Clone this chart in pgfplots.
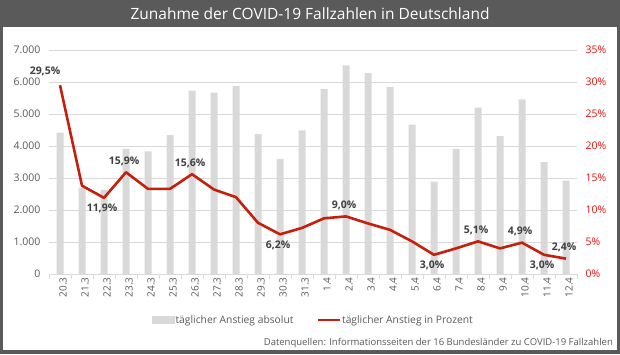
\documentclass[border=0pt]{standalone}
\usepackage{pgfplots}
\pgfplotsset{compat=1.18}
\usepackage{pgfplotstable}
\usepackage{fontspec}
\setmainfont{Open Sans}
\definecolor{framegray}{HTML}{5A5A5A}
\definecolor{bargray}{HTML}{D9D9D9}
\definecolor{gridgray}{HTML}{D9D9D9}
\definecolor{txtgray}{HTML}{595959}
\definecolor{lblgray}{HTML}{404040}
\definecolor{linered}{RGB}{196,32,12}
\definecolor{axred}{RGB}{228,16,16}

\pgfplotstableread{
x abs pct
0 4420 29.5
1 2700 13.8
2 2630 11.9
3 3910 15.9
4 3830 13.3
5 4340 13.3
6 5730 15.6
7 5670 13.2
8 5870 12.0
9 4370 8.0
10 3590 6.2
11 4490 7.2
12 5780 8.7
13 6520 9.0
14 6280 7.9
15 5850 6.9
16 4670 5.1
17 2890 3.0
18 3910 4.0
19 5200 5.1
20 4310 4.0
21 5460 4.9
22 3500 3.0
23 2920 2.4
}\data

\begin{document}
\begin{tikzpicture}
\fill[framegray] (0pt,0pt) rectangle (620pt,-354pt);
\fill[white] (3pt,-27pt) rectangle (617pt,-350pt);
\node[text=white,font=\fontsize{15.5}{18}\selectfont] at (310pt,-13.5pt) {Zunahme der COVID-19 Fallzahlen in Deutschland};
\node[anchor=base east,inner sep=0pt,text=txtgray,font=\fontsize{9.5}{11}\selectfont] at (613pt,-345pt) {Datenquellen: Informationsseiten der 16 Bundesländer zu COVID-19 Fallzahlen};

\begin{axis}[
  at={(49pt,-274pt)}, anchor=south west,
  width=528pt, height=224pt, scale only axis,
  xmin=-0.5, xmax=23.5, ymin=0, ymax=7000,
  ytick={0,1000,...,7000},
  xtick={0,...,23},
  xticklabels={20.3,21.3,22.3,23.3,24.3,25.3,26.3,27.3,28.3,29.3,30.3,31.3,1.4,2.4,3.4,4.4,5.4,6.4,7.4,8.4,9.4,10.4,11.4,12.4},
  minor xtick={-0.5,0.5,...,23.5},
  xtick pos=bottom, ytick pos=left,
  major tick length=0pt, minor tick length=5pt, tick align=outside,
  minor tick style={gridgray, line width=0.8pt},
  separate axis lines,
  x axis line style={draw=gridgray, line width=0.8pt},
  y axis line style={draw=none},
  ymajorgrids, grid style={gridgray, line width=0.8pt},
  /pgf/number format/assume math mode=true,
  /pgf/number format/1000 sep={.},
  x tick label style={rotate=90, anchor=east, font=\fontsize{10}{12}\selectfont, text=txtgray, yshift=-3pt},
  y tick label style={font=\fontsize{10.5}{12}\selectfont, text=txtgray, xshift=-5pt},
  ybar, bar width=7pt,
]
\addplot[fill=bargray, draw=none] table[x=x, y=abs] {\data};
\end{axis}

\begin{axis}[
  at={(49pt,-274pt)}, anchor=south west,
  width=528pt, height=224pt, scale only axis,
  xmin=-0.5, xmax=23.5, ymin=0, ymax=35,
  ytick={0,5,...,35},
  hide x axis,
  ytick pos=right,
  axis line style={draw=none},
  major tick length=0pt,
  /pgf/number format/assume math mode=true,
  yticklabel={\pgfmathprintnumber{\tick}\%},
  y tick label style={font=\fontsize{10.5}{12}\selectfont, text=axred, xshift=5pt},
  legend style={at={(0.5,-0.205)}, anchor=center, draw=none, fill=none,
    font=\fontsize{10.3}{12}\selectfont, text=txtgray,
    legend columns=2,
    /tikz/every even column/.append style={column sep=22pt},
    nodes={inner xsep=1pt}},
  legend cell align=left,
  every node near coord/.append style={font=\bfseries\fontsize{10.5}{12}\selectfont, text=lblgray},
]
\addlegendimage{legend image code/.code={\fill[bargray] (0pt,-3.5pt) rectangle (22pt,3.5pt);}}
\addlegendentry{täglicher Anstieg absolut}
\addplot[linered, line width=2.6pt, line join=round, mark=none,
  legend image code/.code={\draw[linered, line width=2.6pt] (0pt,0pt) -- (22pt,0pt);}]
  table[x=x, y=pct] {\data};
\addlegendentry{täglicher Anstieg in Prozent}

\addplot[forget plot, only marks, mark=none, point meta=y,
  nodes near coords={\pgfmathprintnumber[fixed,fixed zerofill,precision=1,use comma]{\pgfplotspointmeta}\%},
  every node near coord/.append style={anchor=south, yshift=3pt, xshift=-2pt}]
  coordinates {(3,15.9) (6,15.6) (13,9.0) (19,5.1) (21,4.9) (23,2.4)};
\addplot[forget plot, only marks, mark=none, point meta=y,
  nodes near coords={\pgfmathprintnumber[fixed,fixed zerofill,precision=1,use comma]{\pgfplotspointmeta}\%},
  every node near coord/.append style={anchor=north, yshift=-3pt, xshift=-2pt}]
  coordinates {(2,11.9) (10,6.2) (17,3.0) (22,3.0)};
\addplot[forget plot, only marks, mark=none, point meta=y,
  nodes near coords={\pgfmathprintnumber[fixed,fixed zerofill,precision=1,use comma]{\pgfplotspointmeta}\%},
  every node near coord/.append style={anchor=south, yshift=6pt, xshift=-15pt}]
  coordinates {(0,29.5)};
\end{axis}
\end{tikzpicture}
\end{document}
